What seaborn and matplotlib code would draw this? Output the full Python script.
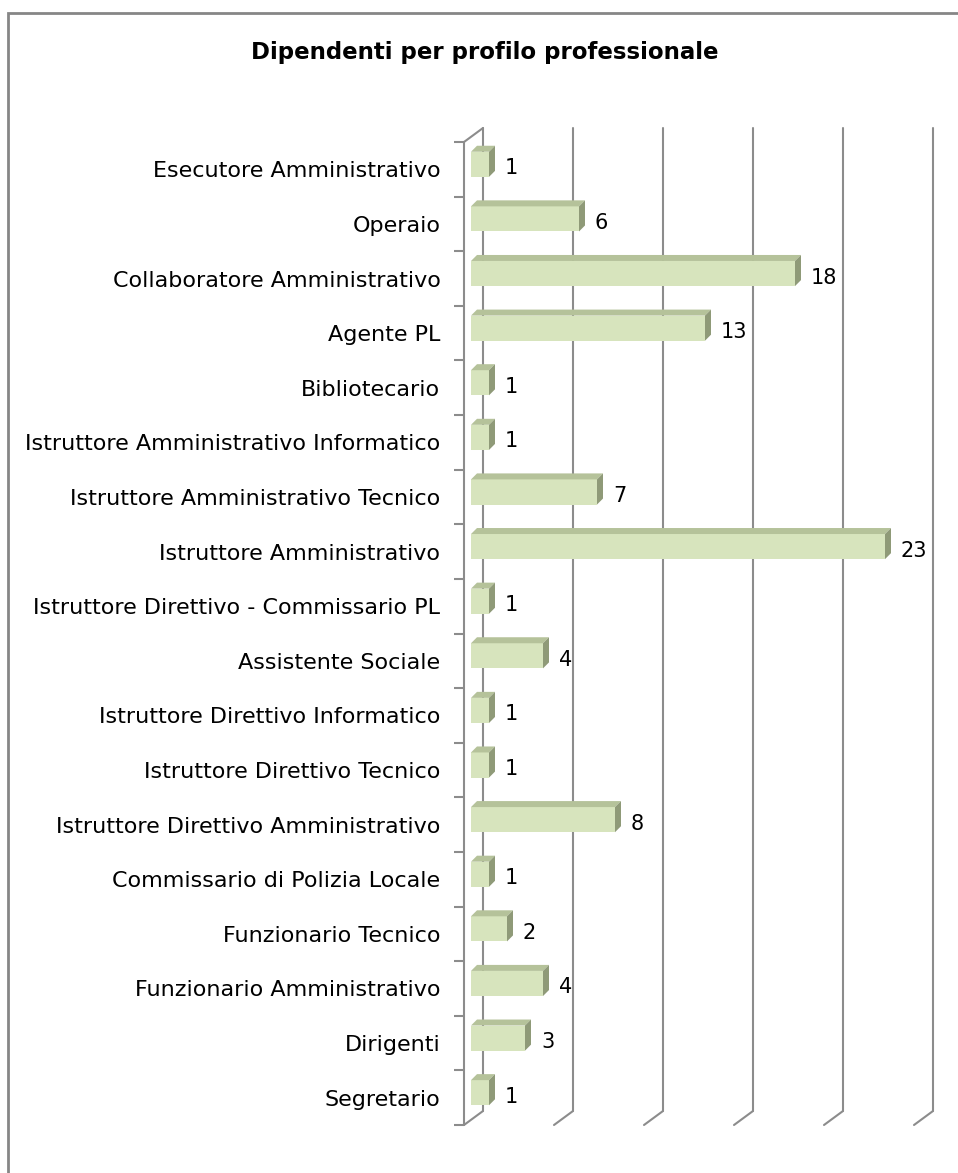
import numpy as np
import pandas as pd
import matplotlib
matplotlib.use('Agg')
import matplotlib.pyplot as plt
import matplotlib.patches as mpatches
from matplotlib.transforms import offset_copy
import seaborn as sns

profili = ['Esecutore Amministrativo', 'Operaio', 'Collaboratore Amministrativo', 'Agente PL',
           'Bibliotecario', 'Istruttore Amministrativo Informatico', 'Istruttore Amministrativo Tecnico',
           'Istruttore Amministrativo', 'Istruttore Direttivo - Commissario PL', 'Assistente Sociale',
           'Istruttore Direttivo Informatico', 'Istruttore Direttivo Tecnico',
           'Istruttore Direttivo Amministrativo', 'Commissario di Polizia Locale', 'Funzionario Tecnico',
           'Funzionario Amministrativo', 'Dirigenti', 'Segretario']
dipendenti = [1, 6, 18, 13, 1, 1, 7, 23, 1, 4, 1, 1, 8, 1, 2, 4, 3, 1]
griglia = [0, 5, 10, 15, 20, 25]

df = pd.DataFrame({'profilo': profili, 'n': dipendenti})

sns.set_style('white')
plt.rcParams['font.family'] = ['DejaVu Sans']

W, H, DPI = 958, 1173, 100
fig = plt.figure(figsize=(W / DPI, H / DPI), dpi=DPI)
ax = fig.add_axes([464 / W, 1 - 1125 / H, 450 / W, (1125 - 142) / H])

front = '#D7E4BD'
top_c = '#B5C29A'
side_c = '#8F9A78'
grid_c = '#8C8C8C'

sns.barplot(data=df, y='profilo', x='n', orient='h', color=front, width=0.46,
            saturation=1, ax=ax)
ax.set_xlim(0, 25)
ax.set_ylim(len(profili) - 0.5, -0.5)

# back wall gridlines + floor diagonals (pseudo 3D)
back = offset_copy(ax.transData, fig, x=19, y=14, units='dots')
for g in griglia:
    ax.plot([g, g], [len(profili) - 0.5, -0.5], color=grid_c, lw=1.5, transform=back,
            clip_on=False, zorder=1)
    p0 = ax.transData.transform((g, len(profili) - 0.5))
    ax.add_line(plt.Line2D([p0[0], p0[0] + 19], [p0[1], p0[1] + 14], color=grid_c, lw=1.5,
                           transform=None, zorder=1, clip_on=False))
p0 = ax.transData.transform((0, -0.5))
ax.add_line(plt.Line2D([p0[0], p0[0] + 19], [p0[1], p0[1] + 14], color=grid_c, lw=1.5,
                       transform=None, zorder=1, clip_on=False))
ax.axvline(0, color=grid_c, lw=1.5, zorder=2, clip_on=False)

# 3D faces of the bars
shift = offset_copy(ax.transData, fig, x=7, y=5, units='dots')
dx, dy = 6, 6
for bar in list(ax.patches):
    bar.set_transform(shift)
    bar.set_edgecolor('none')
    bar.set_zorder(3)
    x0, y0 = bar.get_x(), bar.get_y()
    w, h = bar.get_width(), bar.get_height()
    (ax_, ay_) = shift.transform((x0, y0))
    (bx_, by_) = shift.transform((x0 + w, y0 + h))
    ytop = max(ay_, by_)
    ybot = min(ay_, by_)
    ax.add_patch(mpatches.Polygon([[ax_, ytop], [bx_, ytop], [bx_ + dx, ytop + dy], [ax_ + dx, ytop + dy]],
                                  closed=True, facecolor=top_c, edgecolor='none', transform=None, zorder=3))
    ax.add_patch(mpatches.Polygon([[bx_, ybot], [bx_, ytop], [bx_ + dx, ytop + dy], [bx_ + dx, ybot + dy]],
                                  closed=True, facecolor=side_c, edgecolor='none', transform=None, zorder=3))

# value labels
lab = offset_copy(ax.transData, fig, x=23, y=1, units='dots')
for i, v in enumerate(dipendenti):
    ax.text(v, i, str(v), transform=lab, va='center', ha='left', fontsize=15, color='black', zorder=4)

for s in ax.spines.values():
    s.set_visible(False)
ax.set_xticks([])
ax.set_yticks(range(len(profili)))
ax.set_yticklabels(profili, fontsize=16, color='black')
ax.set_yticks(np.arange(-0.5, len(profili)), minor=True)
ax.tick_params(axis='y', which='major', left=False, length=0, pad=17)
ax.tick_params(axis='y', which='minor', left=True, length=7, width=1.5, color=grid_c, direction='out')
ax.set_xlabel('')
ax.set_ylabel('')
ax.grid(False)

fig.text(485 / W, 1 - 52 / H, 'Dipendenti per profilo professionale', ha='center', va='center',
         fontsize=16.5, fontweight='bold', color='black')
fig.patches.append(mpatches.Rectangle((8 / W, -0.01), 1.0, 1 - 13 / H + 0.01, transform=fig.transFigure,
                                      fill=False, edgecolor='#868686', lw=2))

fig.savefig('out.png', dpi=DPI)
